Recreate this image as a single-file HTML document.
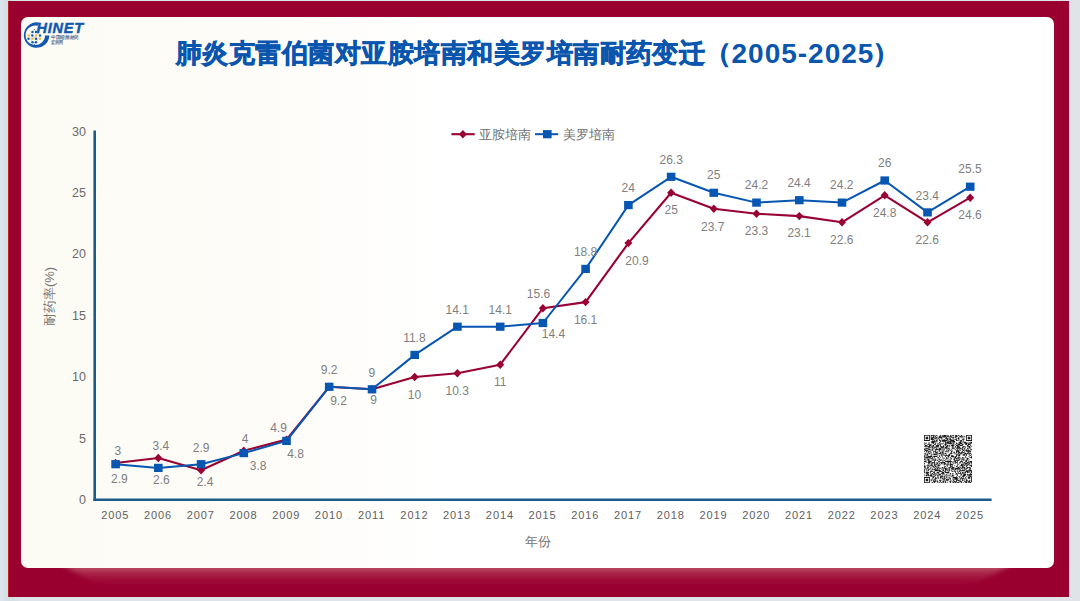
<!DOCTYPE html>
<html><head><meta charset="utf-8">
<style>
html,body{margin:0;padding:0;width:1080px;height:601px;overflow:hidden;background:linear-gradient(to right,#dde6ee 0%,#d3dde2 0.7%,#dde4ea 2%,#e0e4e8 100%);}
#frame{position:absolute;left:8px;top:1px;width:1060.5px;height:595.5px;background:#990030;border-left:1px solid #bb2028;box-sizing:border-box;}
#card{position:absolute;left:21.2px;top:17.3px;width:1032.6px;height:550.7px;border-radius:7px;background:linear-gradient(to right,#fcfbf4 0%,#fdfcf8 25%,#ffffff 42%,#ffffff 100%);}
#title{position:absolute;left:0;top:35px;width:1080px;text-align:left;white-space:nowrap;}
svg{position:absolute;left:0;top:0;}
text{font-family:"Liberation Sans",sans-serif;}
.yl{font-size:12.5px;fill:#6a6a6a;}
.xl{font-size:11px;fill:#606060;letter-spacing:0.9px;}
.dl{font-size:12px;fill:#7f7f7f;}
.lg{font-size:13px;fill:#707070;}
.at{font-size:13px;fill:#767676;}
.ttl{font-weight:bold;fill:#0a55ad;}
.cj{font-size:26px;letter-spacing:0.47px;stroke:#0a55ad;stroke-width:0.7px;}
.dg{font-size:28px;letter-spacing:1.0px;}
.logo{font-size:14.5px;font-weight:bold;font-style:italic;fill:#1258ae;stroke:#1258ae;stroke-width:0.45px;letter-spacing:0.8px;}
.lt{font-size:4.6px;fill:#4a5f8a;stroke:#4a5f8a;stroke-width:0.1px;}
</style></head><body>
<div id="frame"></div>
<svg width="1080" height="601" style="position:absolute;left:0;top:0">
<defs><linearGradient id="sg" x1="0" y1="0" x2="0" y2="1"><stop offset="0" stop-color="#c26474" stop-opacity="0.85"/><stop offset="0.45" stop-color="#b03050" stop-opacity="0.45"/><stop offset="1" stop-color="#990030" stop-opacity="0"/></linearGradient>
<filter id="sb" x="-5%" y="-50%" width="110%" height="200%"><feGaussianBlur stdDeviation="5 1.2"/></filter></defs>
<path d="M64,566 L1010,566 L965,590 L105,590 Z" fill="url(#sg)" filter="url(#sb)"/>
</svg>
<div id="card"></div>
<svg width="1080" height="601" viewBox="0 0 1080 601">
<text x="176" y="62" class="ttl cj">肺炎克雷伯菌对亚胺培南和美罗培南耐药变迁</text><text x="705" y="62" class="ttl cj">（</text><text x="731.5" y="62.8" class="ttl dg">2005-2025</text><text x="873" y="62" class="ttl cj">）</text>

<g>
  <g stroke="#8fb3dc" stroke-width="0.35" fill="none">
    <path d="M34.3,29.3 L28.5,35.4 L34.3,44.6 M34.3,29.3 L40.0,35.4 L34.3,44.6 M30.5,33.6 L38,41 M38,33.6 L30.5,41"/>
  </g>
  <path d="M39.68,22.73 A12.75,12.75 0 1 0 49.34,35.54 L45.00,35.40 A9.75,9.75 0 1 1 37.52,25.80 Z" fill="#1258ae"/>
  <text x="36.4" y="33" class="logo">HINET</text>
  <g fill="#1a5bab"><circle cx="32.5" cy="32.0" r="1.25"/><circle cx="36.0" cy="32.0" r="1.25"/><circle cx="32.3" cy="35.4" r="1.25"/><circle cx="40.0" cy="35.4" r="1.25"/><circle cx="28.5" cy="38.8" r="1.25"/><circle cx="36.0" cy="38.8" r="1.25"/><circle cx="32.5" cy="42.2" r="1.25"/><circle cx="36.0" cy="42.2" r="1.25"/><circle cx="34.3" cy="29.4" r="0.5"/><circle cx="34.3" cy="44.6" r="0.5"/></g>
  <g fill="#f2bd4a"><circle cx="28.5" cy="35.4" r="1.25"/><circle cx="36.0" cy="35.4" r="1.25"/><circle cx="32.4" cy="38.8" r="1.25"/><circle cx="40.0" cy="38.8" r="1.25"/></g>
  <text x="51" y="38.6" class="lt" textLength="28" lengthAdjust="spacingAndGlyphs">中国细菌耐药</text>
  <text x="51" y="43.7" class="lt" textLength="12" lengthAdjust="spacingAndGlyphs">监测网</text>
</g>

<line x1="94.7" y1="130.5" x2="94.7" y2="501" stroke="#1b5c88" stroke-width="2.6"/>
<line x1="93.4" y1="499.8" x2="991.6" y2="499.8" stroke="#1b5c88" stroke-width="2.4"/>
<text x="86" y="504.0" text-anchor="end" class="yl">0</text>
<text x="86" y="442.6" text-anchor="end" class="yl">5</text>
<text x="86" y="381.2" text-anchor="end" class="yl">10</text>
<text x="86" y="319.8" text-anchor="end" class="yl">15</text>
<text x="86" y="258.4" text-anchor="end" class="yl">20</text>
<text x="86" y="197.0" text-anchor="end" class="yl">25</text>
<text x="86" y="135.6" text-anchor="end" class="yl">30</text>
<text x="115.3" y="519.0" text-anchor="middle" class="xl">2005</text>
<text x="158.0" y="519.0" text-anchor="middle" class="xl">2006</text>
<text x="200.8" y="519.0" text-anchor="middle" class="xl">2007</text>
<text x="243.5" y="519.0" text-anchor="middle" class="xl">2008</text>
<text x="286.2" y="519.0" text-anchor="middle" class="xl">2009</text>
<text x="328.9" y="519.0" text-anchor="middle" class="xl">2010</text>
<text x="371.7" y="519.0" text-anchor="middle" class="xl">2011</text>
<text x="414.4" y="519.0" text-anchor="middle" class="xl">2012</text>
<text x="457.1" y="519.0" text-anchor="middle" class="xl">2013</text>
<text x="499.9" y="519.0" text-anchor="middle" class="xl">2014</text>
<text x="542.6" y="519.0" text-anchor="middle" class="xl">2015</text>
<text x="585.3" y="519.0" text-anchor="middle" class="xl">2016</text>
<text x="628.1" y="519.0" text-anchor="middle" class="xl">2017</text>
<text x="670.8" y="519.0" text-anchor="middle" class="xl">2018</text>
<text x="713.5" y="519.0" text-anchor="middle" class="xl">2019</text>
<text x="756.2" y="519.0" text-anchor="middle" class="xl">2020</text>
<text x="799.0" y="519.0" text-anchor="middle" class="xl">2021</text>
<text x="841.7" y="519.0" text-anchor="middle" class="xl">2022</text>
<text x="884.4" y="519.0" text-anchor="middle" class="xl">2023</text>
<text x="927.2" y="519.0" text-anchor="middle" class="xl">2024</text>
<text x="969.9" y="519.0" text-anchor="middle" class="xl">2025</text>
<polyline points="115.6,463.0 158.3,458.0 201.1,470.3 243.8,450.7 286.5,439.6 329.2,386.8 372.0,389.3 414.7,377.0 457.4,373.3 500.2,364.7 542.9,308.2 585.6,302.1 628.4,243.1 671.1,192.8 713.8,208.8 756.5,213.7 799.3,216.1 842.0,222.3 884.7,195.3 927.5,222.3 970.2,197.7" fill="none" stroke="#990033" stroke-width="2.1" stroke-linejoin="round"/>
<path d="M115.6,458.8L119.6,463.0L115.6,467.2L111.6,463.0Z" fill="#990033"/>
<path d="M158.3,453.8L162.3,458.0L158.3,462.2L154.3,458.0Z" fill="#990033"/>
<path d="M201.1,466.1L205.1,470.3L201.1,474.5L197.1,470.3Z" fill="#990033"/>
<path d="M243.8,446.5L247.8,450.7L243.8,454.9L239.8,450.7Z" fill="#990033"/>
<path d="M286.5,435.4L290.5,439.6L286.5,443.8L282.5,439.6Z" fill="#990033"/>
<path d="M329.2,382.6L333.2,386.8L329.2,391.0L325.2,386.8Z" fill="#990033"/>
<path d="M372.0,385.1L376.0,389.3L372.0,393.5L368.0,389.3Z" fill="#990033"/>
<path d="M414.7,372.8L418.7,377.0L414.7,381.2L410.7,377.0Z" fill="#990033"/>
<path d="M457.4,369.1L461.4,373.3L457.4,377.5L453.4,373.3Z" fill="#990033"/>
<path d="M500.2,360.5L504.2,364.7L500.2,368.9L496.2,364.7Z" fill="#990033"/>
<path d="M542.9,304.0L546.9,308.2L542.9,312.4L538.9,308.2Z" fill="#990033"/>
<path d="M585.6,297.9L589.6,302.1L585.6,306.3L581.6,302.1Z" fill="#990033"/>
<path d="M628.4,238.9L632.4,243.1L628.4,247.3L624.4,243.1Z" fill="#990033"/>
<path d="M671.1,188.6L675.1,192.8L671.1,197.0L667.1,192.8Z" fill="#990033"/>
<path d="M713.8,204.6L717.8,208.8L713.8,213.0L709.8,208.8Z" fill="#990033"/>
<path d="M756.5,209.5L760.5,213.7L756.5,217.9L752.5,213.7Z" fill="#990033"/>
<path d="M799.3,211.9L803.3,216.1L799.3,220.3L795.3,216.1Z" fill="#990033"/>
<path d="M842.0,218.1L846.0,222.3L842.0,226.5L838.0,222.3Z" fill="#990033"/>
<path d="M884.7,191.1L888.7,195.3L884.7,199.5L880.7,195.3Z" fill="#990033"/>
<path d="M927.5,218.1L931.5,222.3L927.5,226.5L923.5,222.3Z" fill="#990033"/>
<path d="M970.2,193.5L974.2,197.7L970.2,201.9L966.2,197.7Z" fill="#990033"/>
<polyline points="115.6,464.2 158.3,467.9 201.1,464.2 243.8,453.1 286.5,440.9 329.2,386.8 372.0,389.3 414.7,354.9 457.4,326.7 500.2,326.7 542.9,323.0 585.6,268.9 628.4,205.1 671.1,176.8 713.8,192.8 756.5,202.6 799.3,200.2 842.0,202.6 884.7,180.5 927.5,212.4 970.2,186.7" fill="none" stroke="#0656b2" stroke-width="2.0" stroke-linejoin="round"/>
<rect x="111.3" y="460.1" width="8.6" height="8.2" fill="#0656b2"/>
<rect x="154.0" y="463.8" width="8.6" height="8.2" fill="#0656b2"/>
<rect x="196.8" y="460.1" width="8.6" height="8.2" fill="#0656b2"/>
<rect x="239.5" y="449.0" width="8.6" height="8.2" fill="#0656b2"/>
<rect x="282.2" y="436.8" width="8.6" height="8.2" fill="#0656b2"/>
<rect x="324.9" y="382.7" width="8.6" height="8.2" fill="#0656b2"/>
<rect x="367.7" y="385.2" width="8.6" height="8.2" fill="#0656b2"/>
<rect x="410.4" y="350.8" width="8.6" height="8.2" fill="#0656b2"/>
<rect x="453.1" y="322.6" width="8.6" height="8.2" fill="#0656b2"/>
<rect x="495.9" y="322.6" width="8.6" height="8.2" fill="#0656b2"/>
<rect x="538.6" y="318.9" width="8.6" height="8.2" fill="#0656b2"/>
<rect x="581.3" y="264.8" width="8.6" height="8.2" fill="#0656b2"/>
<rect x="624.1" y="201.0" width="8.6" height="8.2" fill="#0656b2"/>
<rect x="666.8" y="172.7" width="8.6" height="8.2" fill="#0656b2"/>
<rect x="709.5" y="188.7" width="8.6" height="8.2" fill="#0656b2"/>
<rect x="752.2" y="198.5" width="8.6" height="8.2" fill="#0656b2"/>
<rect x="795.0" y="196.1" width="8.6" height="8.2" fill="#0656b2"/>
<rect x="837.7" y="198.5" width="8.6" height="8.2" fill="#0656b2"/>
<rect x="880.4" y="176.4" width="8.6" height="8.2" fill="#0656b2"/>
<rect x="923.2" y="208.3" width="8.6" height="8.2" fill="#0656b2"/>
<rect x="965.9" y="182.6" width="8.6" height="8.2" fill="#0656b2"/>
<text x="117.9" y="455.0" text-anchor="middle" class="dl">3</text>
<text x="160.9" y="450.1" text-anchor="middle" class="dl">3.4</text>
<text x="205.0" y="486.2" text-anchor="middle" class="dl">2.4</text>
<text x="245.0" y="442.8" text-anchor="middle" class="dl">4</text>
<text x="278.5" y="431.6" text-anchor="middle" class="dl">4.9</text>
<text x="329.2" y="374.1" text-anchor="middle" class="dl">9.2</text>
<text x="371.8" y="376.9" text-anchor="middle" class="dl">9</text>
<text x="414.4" y="398.7" text-anchor="middle" class="dl">10</text>
<text x="457.2" y="394.8" text-anchor="middle" class="dl">10.3</text>
<text x="500.3" y="386.2" text-anchor="middle" class="dl">11</text>
<text x="538.5" y="298.0" text-anchor="middle" class="dl">15.6</text>
<text x="585.6" y="324.2" text-anchor="middle" class="dl">16.1</text>
<text x="636.9" y="265.0" text-anchor="middle" class="dl">20.9</text>
<text x="671.2" y="213.8" text-anchor="middle" class="dl">25</text>
<text x="712.7" y="230.5" text-anchor="middle" class="dl">23.7</text>
<text x="756.5" y="235.2" text-anchor="middle" class="dl">23.3</text>
<text x="799.1" y="237.1" text-anchor="middle" class="dl">23.1</text>
<text x="841.8" y="244.1" text-anchor="middle" class="dl">22.6</text>
<text x="884.7" y="217.3" text-anchor="middle" class="dl">24.8</text>
<text x="927.3" y="244.1" text-anchor="middle" class="dl">22.6</text>
<text x="970.0" y="218.9" text-anchor="middle" class="dl">24.6</text>
<text x="119.4" y="483.3" text-anchor="middle" class="dl">2.9</text>
<text x="161.3" y="483.9" text-anchor="middle" class="dl">2.6</text>
<text x="201.1" y="452.1" text-anchor="middle" class="dl">2.9</text>
<text x="258.2" y="469.6" text-anchor="middle" class="dl">3.8</text>
<text x="295.5" y="457.7" text-anchor="middle" class="dl">4.8</text>
<text x="338.5" y="405.3" text-anchor="middle" class="dl">9.2</text>
<text x="373.5" y="404.3" text-anchor="middle" class="dl">9</text>
<text x="414.4" y="341.9" text-anchor="middle" class="dl">11.8</text>
<text x="457.2" y="314.2" text-anchor="middle" class="dl">14.1</text>
<text x="500.3" y="314.2" text-anchor="middle" class="dl">14.1</text>
<text x="553.4" y="337.8" text-anchor="middle" class="dl">14.4</text>
<text x="585.6" y="255.7" text-anchor="middle" class="dl">18.8</text>
<text x="628.3" y="192.1" text-anchor="middle" class="dl">24</text>
<text x="671.2" y="164.1" text-anchor="middle" class="dl">26.3</text>
<text x="713.8" y="178.8" text-anchor="middle" class="dl">25</text>
<text x="756.5" y="189.1" text-anchor="middle" class="dl">24.2</text>
<text x="799.1" y="187.4" text-anchor="middle" class="dl">24.4</text>
<text x="841.8" y="189.1" text-anchor="middle" class="dl">24.2</text>
<text x="884.7" y="166.9" text-anchor="middle" class="dl">26</text>
<text x="927.3" y="199.8" text-anchor="middle" class="dl">23.4</text>
<text x="970.0" y="173.4" text-anchor="middle" class="dl">25.5</text>
<line x1="451.4" y1="134.2" x2="474.7" y2="134.2" stroke="#990033" stroke-width="2.1"/>
<path d="M462.9,130.0L466.9,134.2L462.9,138.4L458.9,134.2Z" fill="#990033"/>
<text x="478.7" y="138.8" class="lg">亚胺培南</text>
<line x1="535" y1="134.2" x2="558.2" y2="134.2" stroke="#0656b2" stroke-width="2.0"/>
<rect x="543.0" y="130.1" width="8.6" height="8.2" fill="#0656b2"/>
<text x="562.6" y="138.8" class="lg">美罗培南</text>
<text x="538" y="546" text-anchor="middle" class="at">年份</text>
<text transform="translate(53.5,296.5) rotate(-90)" text-anchor="middle" class="at">耐药率(%)</text>
<g transform="translate(924,435) scale(0.84211)"><path d="M0 0h7v1h-7zM8 0h5v1h-5zM14 0h2v1h-2zM19 0h1v1h-1zM21 0h1v1h-1zM23 0h4v1h-4zM28 0h1v1h-1zM31 0h1v1h-1zM33 0h3v1h-3zM37 0h2v1h-2zM40 0h2v1h-2zM44 0h1v1h-1zM50 0h7v1h-7zM0 1h1v1h-1zM6 1h1v1h-1zM8 1h1v1h-1zM11 1h1v1h-1zM13 1h1v1h-1zM18 1h2v1h-2zM21 1h5v1h-5zM27 1h3v1h-3zM31 1h2v1h-2zM37 1h3v1h-3zM42 1h5v1h-5zM48 1h1v1h-1zM50 1h1v1h-1zM56 1h1v1h-1zM0 2h1v1h-1zM2 2h3v1h-3zM6 2h1v1h-1zM8 2h1v1h-1zM10 2h11v1h-11zM23 2h5v1h-5zM30 2h6v1h-6zM37 2h2v1h-2zM41 2h1v1h-1zM43 2h1v1h-1zM48 2h1v1h-1zM50 2h1v1h-1zM52 2h3v1h-3zM56 2h1v1h-1zM0 3h1v1h-1zM2 3h3v1h-3zM6 3h1v1h-1zM8 3h4v1h-4zM14 3h1v1h-1zM18 3h5v1h-5zM26 3h1v1h-1zM29 3h1v1h-1zM34 3h2v1h-2zM37 3h1v1h-1zM40 3h2v1h-2zM44 3h3v1h-3zM50 3h1v1h-1zM52 3h3v1h-3zM56 3h1v1h-1zM0 4h1v1h-1zM2 4h3v1h-3zM6 4h1v1h-1zM8 4h3v1h-3zM12 4h3v1h-3zM16 4h2v1h-2zM20 4h1v1h-1zM25 4h4v1h-4zM30 4h2v1h-2zM34 4h1v1h-1zM38 4h1v1h-1zM40 4h2v1h-2zM47 4h1v1h-1zM50 4h1v1h-1zM52 4h3v1h-3zM56 4h1v1h-1zM0 5h1v1h-1zM6 5h1v1h-1zM8 5h4v1h-4zM15 5h1v1h-1zM18 5h1v1h-1zM21 5h1v1h-1zM23 5h2v1h-2zM27 5h2v1h-2zM30 5h3v1h-3zM34 5h1v1h-1zM36 5h3v1h-3zM41 5h1v1h-1zM45 5h3v1h-3zM50 5h1v1h-1zM56 5h1v1h-1zM0 6h7v1h-7zM10 6h1v1h-1zM12 6h1v1h-1zM14 6h2v1h-2zM18 6h2v1h-2zM21 6h7v1h-7zM29 6h1v1h-1zM31 6h5v1h-5zM38 6h2v1h-2zM41 6h1v1h-1zM43 6h2v1h-2zM46 6h1v1h-1zM50 6h7v1h-7zM9 7h7v1h-7zM19 7h1v1h-1zM21 7h5v1h-5zM27 7h1v1h-1zM29 7h8v1h-8zM43 7h2v1h-2zM46 7h1v1h-1zM8 8h5v1h-5zM18 8h2v1h-2zM25 8h1v1h-1zM27 8h3v1h-3zM31 8h1v1h-1zM34 8h3v1h-3zM41 8h3v1h-3zM45 8h1v1h-1zM47 8h3v1h-3zM53 8h1v1h-1zM55 8h2v1h-2zM0 9h1v1h-1zM2 9h1v1h-1zM5 9h2v1h-2zM9 9h3v1h-3zM13 9h1v1h-1zM15 9h1v1h-1zM18 9h1v1h-1zM23 9h1v1h-1zM25 9h9v1h-9zM35 9h1v1h-1zM38 9h1v1h-1zM42 9h3v1h-3zM47 9h5v1h-5zM53 9h1v1h-1zM55 9h2v1h-2zM1 10h2v1h-2zM11 10h1v1h-1zM13 10h1v1h-1zM16 10h2v1h-2zM19 10h4v1h-4zM25 10h1v1h-1zM27 10h1v1h-1zM29 10h4v1h-4zM34 10h2v1h-2zM38 10h8v1h-8zM49 10h2v1h-2zM52 10h4v1h-4zM0 11h1v1h-1zM4 11h5v1h-5zM12 11h2v1h-2zM16 11h1v1h-1zM18 11h2v1h-2zM24 11h3v1h-3zM33 11h1v1h-1zM35 11h1v1h-1zM37 11h1v1h-1zM40 11h3v1h-3zM45 11h2v1h-2zM49 11h2v1h-2zM52 11h3v1h-3zM1 12h3v1h-3zM6 12h3v1h-3zM10 12h2v1h-2zM14 12h4v1h-4zM19 12h1v1h-1zM23 12h1v1h-1zM25 12h1v1h-1zM27 12h2v1h-2zM30 12h1v1h-1zM32 12h4v1h-4zM38 12h3v1h-3zM42 12h4v1h-4zM51 12h2v1h-2zM55 12h1v1h-1zM0 13h7v1h-7zM8 13h1v1h-1zM10 13h2v1h-2zM14 13h4v1h-4zM19 13h2v1h-2zM22 13h2v1h-2zM26 13h3v1h-3zM30 13h1v1h-1zM33 13h2v1h-2zM37 13h1v1h-1zM39 13h3v1h-3zM46 13h3v1h-3zM51 13h4v1h-4zM56 13h1v1h-1zM5 14h3v1h-3zM9 14h2v1h-2zM12 14h3v1h-3zM16 14h1v1h-1zM20 14h4v1h-4zM25 14h3v1h-3zM33 14h1v1h-1zM35 14h1v1h-1zM37 14h1v1h-1zM39 14h4v1h-4zM45 14h2v1h-2zM49 14h1v1h-1zM53 14h2v1h-2zM1 15h4v1h-4zM8 15h1v1h-1zM10 15h2v1h-2zM14 15h1v1h-1zM17 15h5v1h-5zM24 15h3v1h-3zM28 15h3v1h-3zM33 15h3v1h-3zM38 15h2v1h-2zM41 15h3v1h-3zM45 15h1v1h-1zM47 15h2v1h-2zM51 15h2v1h-2zM54 15h2v1h-2zM0 16h1v1h-1zM2 16h1v1h-1zM4 16h3v1h-3zM10 16h1v1h-1zM12 16h1v1h-1zM14 16h2v1h-2zM18 16h2v1h-2zM22 16h2v1h-2zM26 16h2v1h-2zM29 16h1v1h-1zM33 16h1v1h-1zM35 16h2v1h-2zM39 16h3v1h-3zM43 16h3v1h-3zM48 16h1v1h-1zM51 16h1v1h-1zM53 16h1v1h-1zM0 17h2v1h-2zM3 17h1v1h-1zM5 17h3v1h-3zM9 17h2v1h-2zM13 17h8v1h-8zM22 17h1v1h-1zM24 17h1v1h-1zM28 17h1v1h-1zM30 17h1v1h-1zM32 17h1v1h-1zM37 17h1v1h-1zM39 17h1v1h-1zM42 17h1v1h-1zM45 17h2v1h-2zM48 17h1v1h-1zM50 17h1v1h-1zM52 17h1v1h-1zM55 17h2v1h-2zM1 18h4v1h-4zM8 18h1v1h-1zM10 18h1v1h-1zM13 18h1v1h-1zM18 18h1v1h-1zM21 18h1v1h-1zM23 18h1v1h-1zM26 18h1v1h-1zM28 18h2v1h-2zM31 18h1v1h-1zM33 18h1v1h-1zM38 18h4v1h-4zM43 18h1v1h-1zM46 18h2v1h-2zM49 18h6v1h-6zM0 19h1v1h-1zM2 19h2v1h-2zM5 19h3v1h-3zM11 19h3v1h-3zM16 19h1v1h-1zM18 19h1v1h-1zM21 19h1v1h-1zM23 19h1v1h-1zM25 19h3v1h-3zM29 19h1v1h-1zM32 19h2v1h-2zM38 19h4v1h-4zM45 19h1v1h-1zM48 19h1v1h-1zM50 19h6v1h-6zM3 20h1v1h-1zM5 20h1v1h-1zM8 20h1v1h-1zM11 20h1v1h-1zM13 20h3v1h-3zM19 20h1v1h-1zM21 20h2v1h-2zM28 20h1v1h-1zM32 20h1v1h-1zM35 20h2v1h-2zM38 20h1v1h-1zM40 20h3v1h-3zM44 20h4v1h-4zM52 20h1v1h-1zM54 20h1v1h-1zM1 21h1v1h-1zM5 21h4v1h-4zM14 21h3v1h-3zM18 21h6v1h-6zM25 21h2v1h-2zM31 21h3v1h-3zM35 21h1v1h-1zM38 21h1v1h-1zM40 21h1v1h-1zM42 21h3v1h-3zM47 21h3v1h-3zM51 21h3v1h-3zM55 21h1v1h-1zM0 22h2v1h-2zM3 22h2v1h-2zM6 22h1v1h-1zM11 22h3v1h-3zM15 22h1v1h-1zM17 22h3v1h-3zM22 22h1v1h-1zM24 22h2v1h-2zM30 22h3v1h-3zM36 22h2v1h-2zM40 22h2v1h-2zM43 22h3v1h-3zM48 22h4v1h-4zM53 22h3v1h-3zM1 23h1v1h-1zM3 23h2v1h-2zM8 23h2v1h-2zM11 23h5v1h-5zM20 23h2v1h-2zM23 23h1v1h-1zM26 23h1v1h-1zM29 23h2v1h-2zM38 23h2v1h-2zM41 23h2v1h-2zM46 23h3v1h-3zM50 23h1v1h-1zM53 23h1v1h-1zM56 23h1v1h-1zM0 24h1v1h-1zM2 24h1v1h-1zM4 24h1v1h-1zM8 24h1v1h-1zM16 24h1v1h-1zM18 24h1v1h-1zM20 24h1v1h-1zM22 24h1v1h-1zM24 24h7v1h-7zM32 24h3v1h-3zM38 24h1v1h-1zM40 24h3v1h-3zM46 24h1v1h-1zM48 24h1v1h-1zM50 24h1v1h-1zM54 24h2v1h-2zM0 25h1v1h-1zM2 25h1v1h-1zM4 25h6v1h-6zM11 25h5v1h-5zM18 25h1v1h-1zM21 25h1v1h-1zM25 25h1v1h-1zM28 25h2v1h-2zM32 25h4v1h-4zM37 25h2v1h-2zM41 25h1v1h-1zM49 25h1v1h-1zM53 25h1v1h-1zM56 25h1v1h-1zM0 26h8v1h-8zM10 26h1v1h-1zM12 26h1v1h-1zM16 26h2v1h-2zM19 26h1v1h-1zM22 26h1v1h-1zM26 26h1v1h-1zM29 26h1v1h-1zM31 26h1v1h-1zM34 26h1v1h-1zM36 26h2v1h-2zM40 26h3v1h-3zM45 26h1v1h-1zM47 26h1v1h-1zM49 26h1v1h-1zM54 26h3v1h-3zM3 27h1v1h-1zM7 27h4v1h-4zM22 27h1v1h-1zM24 27h1v1h-1zM26 27h3v1h-3zM32 27h1v1h-1zM36 27h5v1h-5zM43 27h1v1h-1zM45 27h2v1h-2zM50 27h3v1h-3zM56 27h1v1h-1zM0 28h2v1h-2zM3 28h4v1h-4zM8 28h1v1h-1zM10 28h1v1h-1zM12 28h2v1h-2zM15 28h1v1h-1zM17 28h2v1h-2zM23 28h1v1h-1zM26 28h1v1h-1zM28 28h1v1h-1zM31 28h2v1h-2zM35 28h2v1h-2zM38 28h1v1h-1zM40 28h3v1h-3zM44 28h1v1h-1zM46 28h1v1h-1zM48 28h1v1h-1zM51 28h2v1h-2zM0 29h2v1h-2zM5 29h1v1h-1zM10 29h2v1h-2zM13 29h1v1h-1zM18 29h4v1h-4zM25 29h1v1h-1zM30 29h1v1h-1zM35 29h2v1h-2zM39 29h1v1h-1zM42 29h1v1h-1zM45 29h3v1h-3zM50 29h2v1h-2zM54 29h1v1h-1zM2 30h1v1h-1zM4 30h3v1h-3zM8 30h1v1h-1zM10 30h1v1h-1zM12 30h2v1h-2zM15 30h2v1h-2zM19 30h1v1h-1zM21 30h1v1h-1zM23 30h2v1h-2zM27 30h1v1h-1zM29 30h1v1h-1zM31 30h1v1h-1zM36 30h6v1h-6zM44 30h1v1h-1zM47 30h1v1h-1zM49 30h2v1h-2zM52 30h1v1h-1zM0 31h3v1h-3zM5 31h4v1h-4zM12 31h1v1h-1zM17 31h2v1h-2zM22 31h1v1h-1zM25 31h8v1h-8zM34 31h1v1h-1zM36 31h2v1h-2zM39 31h1v1h-1zM43 31h3v1h-3zM49 31h2v1h-2zM52 31h1v1h-1zM54 31h3v1h-3zM2 32h1v1h-1zM4 32h4v1h-4zM9 32h4v1h-4zM14 32h1v1h-1zM16 32h1v1h-1zM19 32h6v1h-6zM28 32h2v1h-2zM31 32h1v1h-1zM33 32h1v1h-1zM35 32h1v1h-1zM37 32h3v1h-3zM42 32h2v1h-2zM45 32h1v1h-1zM47 32h2v1h-2zM51 32h3v1h-3zM55 32h2v1h-2zM0 33h1v1h-1zM5 33h2v1h-2zM8 33h1v1h-1zM10 33h1v1h-1zM12 33h1v1h-1zM15 33h2v1h-2zM18 33h1v1h-1zM20 33h2v1h-2zM23 33h3v1h-3zM27 33h1v1h-1zM29 33h1v1h-1zM31 33h1v1h-1zM35 33h1v1h-1zM37 33h1v1h-1zM39 33h1v1h-1zM42 33h1v1h-1zM46 33h1v1h-1zM48 33h4v1h-4zM53 33h2v1h-2zM56 33h1v1h-1zM0 34h1v1h-1zM5 34h1v1h-1zM8 34h3v1h-3zM12 34h4v1h-4zM18 34h1v1h-1zM21 34h1v1h-1zM24 34h2v1h-2zM28 34h1v1h-1zM31 34h4v1h-4zM40 34h1v1h-1zM44 34h2v1h-2zM47 34h1v1h-1zM49 34h2v1h-2zM52 34h2v1h-2zM4 35h1v1h-1zM6 35h1v1h-1zM8 35h1v1h-1zM12 35h1v1h-1zM14 35h1v1h-1zM16 35h2v1h-2zM19 35h1v1h-1zM23 35h2v1h-2zM26 35h8v1h-8zM39 35h1v1h-1zM41 35h1v1h-1zM44 35h4v1h-4zM49 35h1v1h-1zM51 35h2v1h-2zM54 35h1v1h-1zM56 35h1v1h-1zM0 36h1v1h-1zM2 36h1v1h-1zM4 36h2v1h-2zM7 36h4v1h-4zM12 36h2v1h-2zM16 36h3v1h-3zM27 36h1v1h-1zM31 36h1v1h-1zM33 36h1v1h-1zM36 36h1v1h-1zM39 36h1v1h-1zM43 36h3v1h-3zM47 36h2v1h-2zM50 36h2v1h-2zM54 36h3v1h-3zM0 37h2v1h-2zM4 37h1v1h-1zM6 37h1v1h-1zM10 37h2v1h-2zM13 37h2v1h-2zM16 37h1v1h-1zM24 37h2v1h-2zM27 37h1v1h-1zM31 37h3v1h-3zM38 37h2v1h-2zM42 37h1v1h-1zM45 37h2v1h-2zM50 37h1v1h-1zM56 37h1v1h-1zM0 38h2v1h-2zM4 38h2v1h-2zM8 38h1v1h-1zM11 38h2v1h-2zM14 38h1v1h-1zM16 38h2v1h-2zM21 38h2v1h-2zM24 38h1v1h-1zM29 38h3v1h-3zM33 38h3v1h-3zM40 38h2v1h-2zM43 38h1v1h-1zM45 38h4v1h-4zM51 38h4v1h-4zM1 39h1v1h-1zM3 39h2v1h-2zM7 39h1v1h-1zM10 39h1v1h-1zM13 39h1v1h-1zM15 39h2v1h-2zM18 39h2v1h-2zM21 39h1v1h-1zM23 39h4v1h-4zM28 39h1v1h-1zM30 39h1v1h-1zM32 39h4v1h-4zM37 39h6v1h-6zM44 39h2v1h-2zM47 39h2v1h-2zM50 39h2v1h-2zM54 39h2v1h-2zM0 40h1v1h-1zM2 40h1v1h-1zM5 40h3v1h-3zM9 40h1v1h-1zM12 40h2v1h-2zM15 40h1v1h-1zM17 40h1v1h-1zM20 40h1v1h-1zM22 40h1v1h-1zM25 40h4v1h-4zM30 40h1v1h-1zM32 40h1v1h-1zM34 40h1v1h-1zM36 40h5v1h-5zM42 40h2v1h-2zM48 40h3v1h-3zM53 40h2v1h-2zM0 41h1v1h-1zM2 41h1v1h-1zM4 41h2v1h-2zM9 41h8v1h-8zM18 41h1v1h-1zM22 41h2v1h-2zM25 41h2v1h-2zM29 41h2v1h-2zM33 41h3v1h-3zM37 41h1v1h-1zM40 41h1v1h-1zM42 41h1v1h-1zM45 41h2v1h-2zM48 41h1v1h-1zM54 41h2v1h-2zM0 42h1v1h-1zM3 42h1v1h-1zM5 42h1v1h-1zM8 42h1v1h-1zM13 42h7v1h-7zM22 42h2v1h-2zM25 42h1v1h-1zM27 42h2v1h-2zM30 42h1v1h-1zM32 42h1v1h-1zM36 42h1v1h-1zM39 42h1v1h-1zM42 42h7v1h-7zM50 42h7v1h-7zM0 43h1v1h-1zM3 43h1v1h-1zM7 43h4v1h-4zM12 43h1v1h-1zM18 43h4v1h-4zM24 43h2v1h-2zM29 43h1v1h-1zM33 43h2v1h-2zM36 43h2v1h-2zM39 43h1v1h-1zM41 43h2v1h-2zM49 43h4v1h-4zM54 43h1v1h-1zM56 43h1v1h-1zM0 44h1v1h-1zM2 44h4v1h-4zM7 44h1v1h-1zM11 44h2v1h-2zM15 44h3v1h-3zM21 44h3v1h-3zM25 44h5v1h-5zM37 44h1v1h-1zM40 44h1v1h-1zM43 44h1v1h-1zM45 44h2v1h-2zM48 44h2v1h-2zM51 44h2v1h-2zM54 44h1v1h-1zM56 44h1v1h-1zM2 45h3v1h-3zM7 45h1v1h-1zM9 45h2v1h-2zM12 45h2v1h-2zM15 45h1v1h-1zM17 45h1v1h-1zM20 45h4v1h-4zM28 45h1v1h-1zM31 45h1v1h-1zM33 45h2v1h-2zM38 45h1v1h-1zM40 45h4v1h-4zM45 45h2v1h-2zM48 45h1v1h-1zM55 45h1v1h-1zM0 46h1v1h-1zM4 46h2v1h-2zM9 46h1v1h-1zM11 46h1v1h-1zM14 46h1v1h-1zM17 46h3v1h-3zM22 46h3v1h-3zM26 46h1v1h-1zM28 46h1v1h-1zM30 46h2v1h-2zM37 46h3v1h-3zM43 46h2v1h-2zM47 46h3v1h-3zM51 46h1v1h-1zM54 46h3v1h-3zM2 47h4v1h-4zM7 47h3v1h-3zM11 47h3v1h-3zM15 47h2v1h-2zM18 47h2v1h-2zM21 47h1v1h-1zM26 47h1v1h-1zM33 47h2v1h-2zM39 47h1v1h-1zM44 47h1v1h-1zM46 47h4v1h-4zM51 47h6v1h-6zM0 48h1v1h-1zM2 48h2v1h-2zM5 48h5v1h-5zM13 48h1v1h-1zM16 48h2v1h-2zM20 48h1v1h-1zM22 48h1v1h-1zM24 48h2v1h-2zM27 48h5v1h-5zM33 48h3v1h-3zM39 48h1v1h-1zM43 48h1v1h-1zM46 48h3v1h-3zM53 48h2v1h-2zM8 49h1v1h-1zM10 49h3v1h-3zM16 49h1v1h-1zM19 49h4v1h-4zM24 49h1v1h-1zM26 49h1v1h-1zM32 49h1v1h-1zM34 49h1v1h-1zM38 49h1v1h-1zM41 49h2v1h-2zM45 49h3v1h-3zM50 49h1v1h-1zM52 49h1v1h-1zM54 49h3v1h-3zM0 50h7v1h-7zM10 50h2v1h-2zM13 50h1v1h-1zM15 50h1v1h-1zM17 50h1v1h-1zM19 50h2v1h-2zM22 50h1v1h-1zM24 50h1v1h-1zM26 50h1v1h-1zM28 50h1v1h-1zM30 50h1v1h-1zM34 50h6v1h-6zM42 50h1v1h-1zM44 50h1v1h-1zM46 50h1v1h-1zM49 50h1v1h-1zM52 50h3v1h-3zM56 50h1v1h-1zM0 51h1v1h-1zM6 51h1v1h-1zM10 51h1v1h-1zM13 51h3v1h-3zM17 51h1v1h-1zM19 51h1v1h-1zM21 51h2v1h-2zM24 51h2v1h-2zM30 51h2v1h-2zM34 51h1v1h-1zM36 51h4v1h-4zM41 51h1v1h-1zM43 51h5v1h-5zM49 51h1v1h-1zM52 51h3v1h-3zM56 51h1v1h-1zM0 52h1v1h-1zM2 52h3v1h-3zM6 52h1v1h-1zM8 52h1v1h-1zM10 52h1v1h-1zM12 52h2v1h-2zM22 52h3v1h-3zM26 52h4v1h-4zM31 52h1v1h-1zM34 52h1v1h-1zM36 52h4v1h-4zM43 52h1v1h-1zM45 52h1v1h-1zM48 52h1v1h-1zM50 52h1v1h-1zM56 52h1v1h-1zM0 53h1v1h-1zM2 53h3v1h-3zM6 53h1v1h-1zM8 53h1v1h-1zM11 53h1v1h-1zM13 53h1v1h-1zM15 53h1v1h-1zM18 53h3v1h-3zM26 53h2v1h-2zM29 53h1v1h-1zM34 53h2v1h-2zM38 53h5v1h-5zM45 53h3v1h-3zM50 53h2v1h-2zM54 53h1v1h-1zM56 53h1v1h-1zM0 54h1v1h-1zM2 54h3v1h-3zM6 54h1v1h-1zM8 54h2v1h-2zM11 54h3v1h-3zM15 54h1v1h-1zM18 54h2v1h-2zM22 54h4v1h-4zM27 54h2v1h-2zM31 54h2v1h-2zM35 54h1v1h-1zM38 54h1v1h-1zM40 54h2v1h-2zM43 54h1v1h-1zM45 54h1v1h-1zM48 54h1v1h-1zM50 54h2v1h-2zM53 54h2v1h-2zM56 54h1v1h-1zM0 55h1v1h-1zM6 55h1v1h-1zM11 55h3v1h-3zM15 55h2v1h-2zM19 55h1v1h-1zM22 55h2v1h-2zM25 55h1v1h-1zM30 55h2v1h-2zM33 55h1v1h-1zM35 55h4v1h-4zM42 55h3v1h-3zM48 55h3v1h-3zM52 55h3v1h-3zM56 55h1v1h-1zM0 56h7v1h-7zM9 56h2v1h-2zM12 56h1v1h-1zM16 56h1v1h-1zM18 56h1v1h-1zM20 56h2v1h-2zM23 56h1v1h-1zM25 56h1v1h-1zM27 56h1v1h-1zM31 56h1v1h-1zM34 56h2v1h-2zM37 56h1v1h-1zM39 56h3v1h-3zM44 56h1v1h-1zM46 56h1v1h-1zM49 56h2v1h-2zM52 56h1v1h-1zM54 56h2v1h-2z" fill="#1a1a1a"/></g>
</svg>
</body></html>
